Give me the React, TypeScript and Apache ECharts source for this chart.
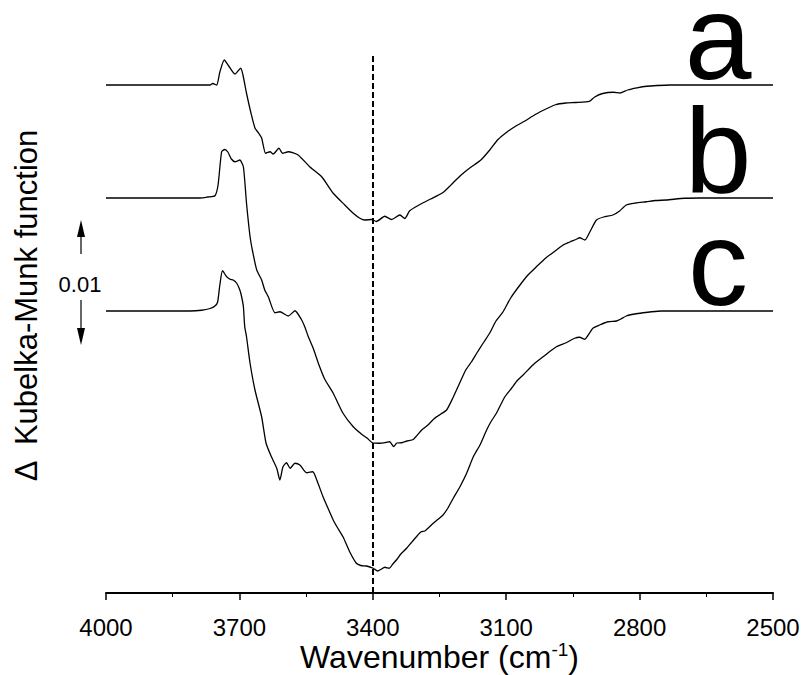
import React, { useEffect, useRef } from 'react';
import * as echarts from 'echarts';

// ---- data (wavenumber cm-1, ΔKubelka-Munk relative to each curve's own baseline) ----
const xTickValues = [4000, 3700, 3400, 3100, 2800, 2500];
const markerWavenumber = 3400;
const scaleBarLabel = '0.01';
const curveLabels = ['a', 'b', 'c'];
const curveOffsets = [0.04064, 0.0316, 0.02256];

const curveA: [number, number][] = [
  [4000, 0], [3766, 0], [3760, 0.00012], [3751, 0], [3744, 0.00104], [3734, 0.002], [3724, 0.00152],
  [3710, 0.00088], [3697, 0.00134], [3692, 0.0008], [3684, -0.00066], [3674, -0.00224], [3665, -0.00344],
  [3657, -0.00384], [3650, -0.00424], [3641, -0.00546], [3631, -0.00534], [3624, -0.00552], [3611, -0.00506],
  [3603, -0.00546], [3590, -0.00534], [3568, -0.0056], [3542, -0.00654], [3515, -0.00734], [3489, -0.00866],
  [3463, -0.0096], [3444, -0.01026], [3429, -0.01066], [3418, -0.0108], [3403, -0.01076], [3392, -0.01092],
  [3373, -0.0105], [3358, -0.01076], [3339, -0.0104], [3328, -0.01068], [3317, -0.01006], [3294, -0.00956],
  [3270, -0.00912], [3243, -0.00862], [3222, -0.00792], [3202, -0.00722], [3182, -0.00664], [3157, -0.006],
  [3137, -0.0052], [3119, -0.00438], [3096, -0.0037], [3078, -0.00328], [3058, -0.00288], [3040, -0.00248],
  [3020, -0.00208], [2989, -0.00158], [2966, -0.00144], [2944, -0.0014], [2913, -0.00131], [2901, -0.00096],
  [2883, -0.00068], [2859, -0.00058], [2844, -0.00064], [2827, -0.0004], [2806, -0.00023], [2784, -0.0001],
  [2760, -0.00004], [2732, 0], [2500, 0],
];

const curveB: [number, number][] = [
  [4000, 0], [3789, 0], [3771, 0.00008], [3755, 0.00018], [3748, 0.00104], [3740, 0.0037], [3733, 0.00388],
  [3726, 0.00368], [3718, 0.00312], [3710, 0.0029], [3699, 0.00304], [3691, 0.00248], [3684, -0.00042],
  [3676, -0.0031], [3670, -0.00432], [3661, -0.00576], [3650, -0.00656], [3643, -0.00736], [3635, -0.0079],
  [3620, -0.00918], [3609, -0.0091], [3590, -0.00944], [3575, -0.00902], [3560, -0.00976], [3553, -0.0103],
  [3545, -0.0111], [3534, -0.01202], [3521, -0.01336], [3508, -0.0145], [3489, -0.01562], [3467, -0.01722],
  [3444, -0.0183], [3425, -0.0189], [3413, -0.0192], [3401, -0.01958], [3384, -0.01962], [3371, -0.01956],
  [3362, -0.0195], [3353, -0.01988], [3346, -0.0196], [3335, -0.01958], [3323, -0.01944], [3309, -0.01932],
  [3290, -0.01856], [3276, -0.01816], [3261, -0.01762], [3247, -0.01728], [3234, -0.01696], [3220, -0.016],
  [3204, -0.01476], [3191, -0.01376], [3178, -0.0131], [3166, -0.0124], [3152, -0.01162], [3137, -0.0108],
  [3123, -0.00984], [3107, -0.0091], [3090, -0.008], [3069, -0.00696], [3051, -0.00616], [3032, -0.0055],
  [3011, -0.0048], [2987, -0.00416], [2972, -0.00376], [2957, -0.00352], [2942, -0.0033], [2935, -0.00318],
  [2923, -0.00336], [2912, -0.00272], [2897, -0.00176], [2881, -0.00152], [2860, -0.00136], [2845, -0.00104],
  [2830, -0.00056], [2809, -0.0004], [2785, -0.0003], [2764, -0.0002], [2740, -0.00016], [2699, -0.00002],
  [2665, 0], [2500, 0],
];

const curveC: [number, number][] = [
  [4000, 0], [3811, 0], [3785, 0.00006], [3766, 0.0002], [3755, 0.0004], [3749, 0.00072], [3744, 0.00208],
  [3738, 0.00322], [3729, 0.00276], [3721, 0.00254], [3714, 0.00248], [3706, 0.00222], [3699, 0.00168],
  [3695, 0.00114], [3691, 0.00034], [3688, -0.00126], [3684, -0.00206], [3676, -0.00418], [3665, -0.00632],
  [3650, -0.00846], [3640, -0.01058], [3628, -0.01166], [3616, -0.01258], [3609, -0.01352], [3602, -0.01246],
  [3594, -0.01214], [3586, -0.01258], [3575, -0.01218], [3564, -0.01232], [3549, -0.01294], [3535, -0.01286],
  [3526, -0.01352], [3512, -0.01486], [3501, -0.01576], [3489, -0.01672], [3479, -0.01736], [3467, -0.01806],
  [3452, -0.01926], [3437, -0.02018], [3427, -0.02036], [3414, -0.0204], [3399, -0.02058], [3389, -0.0208],
  [3382, -0.02068], [3373, -0.0205], [3363, -0.02058], [3355, -0.02024], [3347, -0.01992], [3337, -0.01944],
  [3324, -0.01898], [3314, -0.01856], [3302, -0.01806], [3292, -0.01768], [3283, -0.0176], [3274, -0.01732],
  [3264, -0.01698], [3254, -0.01668], [3242, -0.01632], [3231, -0.01576], [3219, -0.01498], [3204, -0.01406],
  [3189, -0.01298], [3174, -0.01166], [3159, -0.01072], [3144, -0.00952], [3134, -0.00884], [3122, -0.00818],
  [3103, -0.00686], [3088, -0.00618], [3076, -0.0056], [3062, -0.00512], [3040, -0.00432], [3017, -0.00366],
  [3002, -0.00324], [2987, -0.00286], [2965, -0.00254], [2946, -0.00218], [2935, -0.0021], [2923, -0.00226],
  [2917, -0.002], [2905, -0.00138], [2890, -0.00112], [2871, -0.00086], [2852, -0.0008], [2842, -0.00064],
  [2830, -0.0004], [2811, -0.00024], [2792, -0.00014], [2773, -0.00006], [2751, 0], [2500, 0],
];

const FONT = '"Liberation Sans", Arial, Helvetica, sans-serif';

export default function App() {
  const ref = useRef<HTMLDivElement>(null);

  useEffect(() => {
    if (!ref.current) return;
    const chart = echarts.init(ref.current, null, { renderer: 'svg' });
    const curves = [curveA, curveB, curveC];

    const series: any[] = curves.map((pts, i) => ({
      type: 'line',
      name: curveLabels[i],
      data: pts.map(([w, v]) => [w, v + curveOffsets[i]]),
      showSymbol: false,
      symbol: 'none',
      smooth: 0.2,
      lineStyle: { color: '#000', width: 1.3 },
      z: 3,
    }));
    series[0].markLine = {
      silent: true,
      symbol: ['none', 'none'],
      label: { show: false },
      lineStyle: { color: '#000', type: [6, 3], width: 2 },
      data: [[{ coord: [markerWavenumber, 0] }, { coord: [markerWavenumber, 0.043] }]],
    };

    const labelYs = [37, 150, 263];

    chart.setOption({
      animation: false,
      backgroundColor: '#fff',
      grid: { left: 106, right: 31, top: 18, bottom: 82, containLabel: false, outerBoundsMode: 'none' },
      xAxis: {
        type: 'value',
        inverse: true,
        min: 2500,
        max: 4000,
        interval: 300,
        axisLine: { show: true, onZero: false, lineStyle: { color: '#000', width: 2 } },
        axisTick: { show: true, length: 7, lineStyle: { color: '#000', width: 1.5 } },
        minorTick: { show: true, splitNumber: 2, length: 4, lineStyle: { color: '#000', width: 1 } },
        splitLine: { show: false },
        minorSplitLine: { show: false },
        axisLabel: {
          fontSize: 24,
          color: '#000',
          fontFamily: FONT,
          margin: 22,
          showMinLabel: true,
          showMaxLabel: true,
          formatter: (v: number) => (xTickValues.includes(v) ? String(v) : ''),
        },
        name: '{t|Wavenumber (cm}{s|-1}{t|)}',
        nameLocation: 'middle',
        nameGap: 47,
        nameMoveOverlap: false,
        nameTextStyle: {
          rich: {
            t: { fontSize: 32, fontFamily: FONT, color: '#000', lineHeight: 34 },
            s: { fontSize: 19, fontFamily: FONT, color: '#000', lineHeight: 19, verticalAlign: 'top' },
          },
        },
      },
      yAxis: {
        type: 'value',
        min: 0,
        max: 0.046,
        axisLine: { show: false },
        axisTick: { show: false },
        axisLabel: { show: false },
        splitLine: { show: false },
        name: 'Δ  Kubelka-Munk function',
        nameLocation: 'middle',
        nameGap: 64,
        nameMoveOverlap: false,
        nameTextStyle: { fontSize: 31, fontFamily: FONT, color: '#000' },
      },
      graphic: [
        ...curveLabels.map((t, i) => ({
          type: 'text',
          x: 718,
          y: labelYs[i],
          style: {
            text: t,
            fontSize: 120,
            lineHeight: 68,
            fontFamily: FONT,
            fill: '#000',
            textAlign: 'center',
            textVerticalAlign: 'middle',
          },
        })),
        { type: 'line', shape: { x1: 81, y1: 236, x2: 81, y2: 254 }, style: { stroke: '#000', lineWidth: 1.2 } },
        { type: 'polygon', shape: { points: [[81, 220], [77, 237], [85, 237]] }, style: { fill: '#000' } },
        {
          type: 'text',
          x: 80,
          y: 284,
          style: { text: scaleBarLabel, fontSize: 22, fontFamily: FONT, fill: '#000', textAlign: 'center', textVerticalAlign: 'middle' },
        },
        { type: 'line', shape: { x1: 81, y1: 300, x2: 81, y2: 329 }, style: { stroke: '#000', lineWidth: 1.2 } },
        { type: 'polygon', shape: { points: [[81, 345], [77, 328], [85, 328]] }, style: { fill: '#000' } },
      ],
      series,
    });

    return () => chart.dispose();
  }, []);

  return (
    <div
      ref={ref}
      style={{ position: 'absolute', left: 0, top: 0, width: 804, height: 675, background: '#fff' }}
    />
  );
}
